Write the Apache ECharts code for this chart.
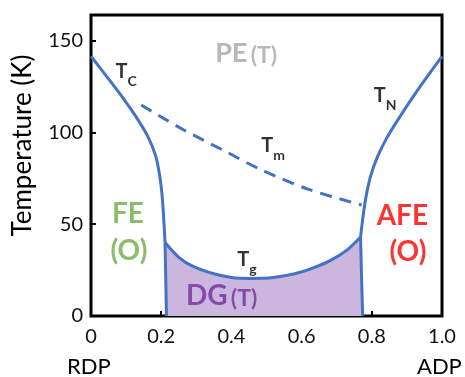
<!DOCTYPE html>
<html>
<head>
<meta charset="utf-8">
<script src="https://cdn.jsdelivr.net/npm/echarts@6/dist/echarts.min.js"></script>
<style>
  html, body { margin: 0; padding: 0; background: #ffffff; }
  #chart { width: 465px; height: 377px; }
</style>
</head>
<body>
<div id="chart"></div>
<script>
// Composition axis (fraction of ADP) and temperature ticks
const xTickLabels = ['0', '0.2', '0.4', '0.6', '0.8', '1.0'];
const yTickLabels = ['0', '50', '100', '150'];

// Phase boundaries as [composition, temperature K]
const tcCurve = [[0, 141.5], [0.0444, 130.6], [0.0877, 119.7], [0.1276, 108.8], [0.1618, 97.9],
                 [0.1846, 87], [0.196, 76.1], [0.2028, 65.2], [0.2068, 54.3], [0.211, 40]];
const feDgBoundary = [[0.211, 40], [0.213, 20], [0.215, 0]];
const tgCurve = [[0.211, 40], [0.25, 32], [0.291, 27], [0.35, 23], [0.40, 21], [0.453, 20.5],
                 [0.52, 21], [0.58, 23], [0.624, 25.5], [0.68, 30], [0.73, 36], [0.768, 43]];
const afeDgBoundary = [[0.768, 43], [0.771, 20], [0.774, 0]];
const tnCurve = [[0.768, 43], [0.7749, 54], [0.7835, 64.9], [0.796, 75.8], [0.816, 86.7],
                 [0.8444, 97.6], [0.8798, 108.5], [0.9174, 119.4], [0.9573, 130.3], [1.0, 141.5]];
const tmCurve = [[0.143, 115], [0.263, 101.5], [0.38, 90], [0.481, 80], [0.62, 69], [0.771, 60.5]];

// Phase and transition labels, anchored in data coordinates
const labelText = ['{t|T}{s|C}', '{t|T}{s|N}', '{t|T}{s|m}', '{t|T}{s|g}',
                   '{g|PE} {p|(T)}', '{b|FE}', '{b|(O)}', '{b|AFE}', '{b|(O)}', '{b|DG} {p|(T)}'];
const labelAt = [[0.1, 133], [0.838, 120], [0.519, 93], [0.444, 31],
                 [0.442, 144.5], [0.105, 56.5], [0.108, 36.5], [0.887, 55.5], [0.903, 36], [0.372, 12]];
const labelColor = ['#000000', '#000000', '#000000', '#000000',
                    '#a6a6a6', '#70ad47', '#70ad47', '#ff0000', '#ff0000', '#7030a0'];

const FONT = 'Lato, "Open Sans", sans-serif';
const BLUE = '#4472c4';

const chart = echarts.init(document.getElementById('chart'), null, { renderer: 'canvas' });

const richStyles = {
  t: { fontSize: 20, fontWeight: 'bold', fontFamily: FONT, lineHeight: 34, verticalAlign: 'middle' },
  s: { fontSize: 14, fontWeight: 'bold', fontFamily: FONT, lineHeight: 14, verticalAlign: 'bottom' },
  g: { fontSize: 27, fontWeight: 'bold', fontFamily: FONT, lineHeight: 32, verticalAlign: 'bottom' },
  b: { fontSize: 28, fontWeight: 'bold', fontFamily: FONT, lineHeight: 32, verticalAlign: 'bottom' },
  p: { fontSize: 23, fontWeight: 'bold', fontFamily: FONT, lineHeight: 29, verticalAlign: 'bottom' }
};

function curve(data, dashed) {
  return {
    type: 'line',
    data: data,
    smooth: 0.3,
    symbol: 'none',
    silent: true,
    z: 3,
    lineStyle: { color: BLUE, width: 3, type: dashed ? [12, 8] : 'solid', cap: 'butt' }
  };
}

// Closed outline of the dipolar-glass region
const dgOutline = feDgBoundary.slice().reverse().concat(tgCurve.slice(1), afeDgBoundary.slice(1));

chart.setOption({
  animation: false,
  backgroundColor: '#ffffff',
  grid: {
    left: 91, right: 23, top: 15, bottom: 61,
    outerBoundsMode: 'none',
    containLabel: false,
    show: true, borderColor: '#000000', borderWidth: 3, backgroundColor: 'transparent'
  },
  xAxis: {
    type: 'value', min: 0, max: 1, interval: 0.2,
    axisLine: { show: false },
    splitLine: { show: false },
    axisTick: { show: true, inside: true, length: 5, lineStyle: { color: '#000', width: 2 } },
    axisLabel: {
      margin: 11, fontSize: 20, fontFamily: FONT, color: '#111',
      formatter: v => xTickLabels[Math.round(v / 0.2)]
    }
  },
  yAxis: {
    type: 'value', min: 0, max: 164, interval: 50,
    axisLine: { show: false },
    splitLine: { show: false },
    axisTick: { show: true, inside: true, length: 5, lineStyle: { color: '#000', width: 2 } },
    axisLabel: {
      margin: 8, fontSize: 20, fontFamily: FONT, color: '#111',
      formatter: v => (v % 50 === 0 ? yTickLabels[v / 50] : '')
    },
    name: 'Temperature (K)',
    nameLocation: 'middle',
    nameGap: 55,
    nameTextStyle: { fontSize: 26, fontFamily: FONT, color: '#000', padding: [0, 0, 0, 40] }
  },
  graphic: [
    { type: 'text', left: 67, top: 356, style: { text: 'RDP', fontSize: 22, fontFamily: FONT, fill: '#000' } },
    { type: 'text', left: 417, top: 356, style: { text: 'ADP', fontSize: 22, fontFamily: FONT, fill: '#000' } }
  ],
  series: [
    {
      type: 'custom',
      silent: true,
      z: 1,
      data: [0],
      renderItem: (params, api) => ({
        type: 'polygon',
        shape: { points: dgOutline.map(p => api.coord(p)) },
        style: { fill: '#cbb6dd', stroke: null }
      })
    },
    curve(tcCurve),
    curve(feDgBoundary),
    curve(tgCurve),
    curve(afeDgBoundary),
    curve(tnCurve),
    curve(tmCurve, true),
    {
      type: 'scatter',
      silent: true,
      clip: false,
      symbolSize: 0,
      z: 5,
      data: labelAt.map((p, i) => ({
        value: p,
        label: {
          show: true, position: 'inside', align: 'center', verticalAlign: 'middle',
          formatter: labelText[i], color: labelColor[i],
          rich: Object.fromEntries(Object.entries(richStyles).map(([k, s]) => [k, Object.assign({ color: labelColor[i] }, s)]))
        }
      }))
    }
  ]
});
</script>
</body>
</html>
